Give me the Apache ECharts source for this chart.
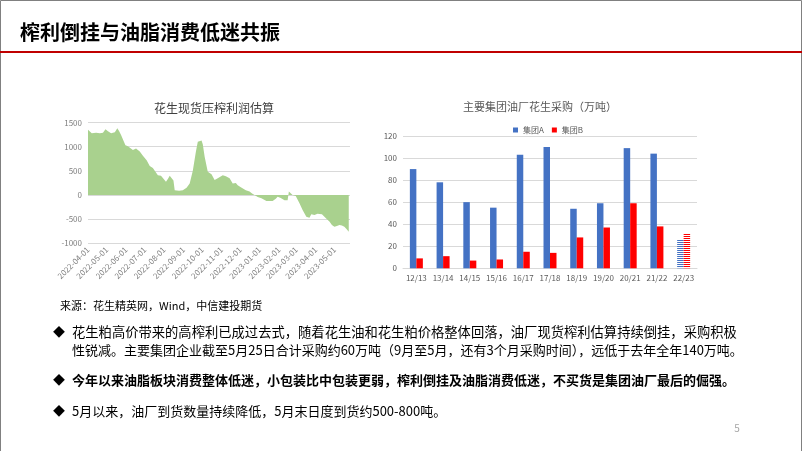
<!DOCTYPE html>
<html>
<head>
<meta charset="utf-8">
<script src="https://cdn.jsdelivr.net/npm/echarts@6/dist/echarts.min.js"></script>
<style>
html,body{margin:0;padding:0;background:#fff;}
#c{width:802px;height:451px;}
</style>
</head>
<body>
<div id="c"></div>
<script>
// ---- Left chart: 花生现货压榨利润估算 ----
var profitDates = ['2022-04-01','2022-04-07','2022-04-14','2022-04-20','2022-04-25','2022-04-29','2022-05-03','2022-05-08','2022-05-11','2022-05-14','2022-05-18','2022-05-21','2022-05-24','2022-05-26','2022-05-31','2022-06-04','2022-06-07','2022-06-12','2022-06-17','2022-06-20','2022-06-23','2022-06-28','2022-07-04','2022-07-09','2022-07-14','2022-07-17','2022-07-22','2022-07-27','2022-07-30','2022-08-04','2022-08-07','2022-08-10','2022-08-13','2022-08-16','2022-08-18','2022-08-25','2022-08-31','2022-09-06','2022-09-11','2022-09-16','2022-09-21','2022-09-24','2022-09-30','2022-10-02','2022-10-05','2022-10-10','2022-10-16','2022-10-21','2022-10-26','2022-10-29','2022-11-03','2022-11-08','2022-11-14','2022-11-19','2022-11-24','2022-11-27','2022-12-02','2022-12-05','2022-12-10','2022-12-16','2022-12-20','2022-12-24','2022-12-29','2023-01-04','2023-01-12','2023-01-22','2023-01-27','2023-01-30','2023-02-04','2023-02-07','2023-02-10','2023-02-15','2023-02-17','2023-02-20','2023-02-23','2023-02-28','2023-03-03','2023-03-06','2023-03-11','2023-03-17','2023-03-22','2023-03-25','2023-03-30','2023-04-04','2023-04-07','2023-04-11','2023-04-15','2023-04-19','2023-04-23','2023-04-27','2023-05-01','2023-05-05','2023-05-09','2023-05-13','2023-05-17','2023-05-20','2023-05-24'];
var profitValues = [1350,1275,1290,1280,1290,1360,1320,1280,1240,1300,1380,1320,1240,1260,1030,1010,1000,930,960,985,900,810,720,600,560,500,410,400,370,275,330,400,430,300,100,90,100,150,240,500,900,1100,1130,1050,790,480,430,310,345,380,410,390,345,240,250,200,160,124,100,70,30,0,-40,-70,-124,-124,-80,-35,-60,-70,-110,-110,70,40,0,-20,-35,-170,-310,-450,-470,-400,-413,-390,-380,-400,-450,-500,-550,-620,-655,-640,-620,-630,-655,-700,-760];
var profitTicks = [-1000,-500,0,500,1000,1500];

// ---- Right chart: 主要集团油厂花生采购（万吨） ----
var seasons = ['12/13','13/14','14/15','15/16','16/17','17/18','18/19','19/20','20/21','21/22','22/23'];
var groupA = [90,78,60,55,103,110,54,59,109,104,26];
var groupB = [9,11,7,8,15,14,28,37,59,38,32];
var purchaseTicks = [0,20,40,60,80,100,120];

function stripes(color){
  var c = document.createElement('canvas');
  c.width = 4; c.height = 2;
  var g = c.getContext('2d');
  g.fillStyle = '#ffffff'; g.fillRect(0,0,4,2);
  g.fillStyle = color; g.fillRect(0,0,4,1);
  return {image: c, repeat: 'repeat'};
}
function barData(vals, color){
  return vals.map(function(v,i){
    if (i === vals.length-1) return {value: v, itemStyle: {color: stripes(color)}};
    return v;
  });
}

var FONT = '"Noto Sans CJK SC", "Noto Sans", sans-serif';
var chart = echarts.init(document.getElementById('c'), null, {renderer:'canvas'});
var DAY = 86400000;
chart.setOption({
  animation: false,
  backgroundColor: '#ffffff',
  textStyle: {fontFamily: FONT},
  grid: [
    {left: 88, right: 452, top: 122.5, bottom: 207.7},
    {left: 403, right: 105, top: 136, bottom: 182.7}
  ],
  legend: {
    data: ['集团A','集团B'],
    top: 121, left: 508,
    itemWidth: 5, itemHeight: 5, itemGap: 8,
    icon: 'rect',
    textStyle: {fontSize: 8, color: '#595959', fontFamily: FONT}
  },
  xAxis: [
    {
      type: 'time', gridIndex: 0,
      min: new Date('2022-04-01T00:00:00').getTime(),
      max: new Date('2023-05-26T00:00:00').getTime(),
      splitNumber: 14,
      minInterval: 28*DAY, maxInterval: 31*DAY,
      axisLine: {show: false}, axisTick: {show: false}, splitLine: {show: false},
      axisLabel: {
        rotate: 45, fontSize: 8, color: '#7f7f7f', margin: 5, hideOverlap: false,
        showMinLabel: true, showMaxLabel: false,
        formatter: function(v){ return echarts.time.format(v, '{yyyy}-{MM}-{dd}', false); }
      }
    },
    {
      type: 'category', gridIndex: 1, data: seasons,
      axisLine: {show: true, lineStyle: {color: '#d9d9d9'}}, axisTick: {show: false},
      axisLabel: {fontSize: 8, color: '#595959', margin: 6, interval: 0}
    }
  ],
  yAxis: [
    {
      type: 'value', gridIndex: 0, min: profitTicks[0], max: profitTicks[profitTicks.length-1], interval: 500,
      axisLine: {show: false}, axisTick: {show: false},
      splitLine: {lineStyle: {color: '#d9d9d9'}},
      axisLabel: {fontSize: 8, color: '#7f7f7f', margin: 6, formatter: function(v){ return String(v); }}
    },
    {
      type: 'value', gridIndex: 1, min: purchaseTicks[0], max: purchaseTicks[purchaseTicks.length-1], interval: 20,
      axisLine: {show: false}, axisTick: {show: false},
      splitLine: {lineStyle: {color: '#d9d9d9'}},
      axisLabel: {fontSize: 8, color: '#595959', margin: 6}
    }
  ],
  series: [
    {
      type: 'line', xAxisIndex: 0, yAxisIndex: 0,
      data: profitDates.map(function(d,i){ return [d, profitValues[i]]; }),
      showSymbol: false, lineStyle: {width: 0}, itemStyle: {color: '#a9d18e'},
      areaStyle: {color: '#a9d18e', opacity: 1}
    },
    {
      name: '集团A', type: 'bar', xAxisIndex: 1, yAxisIndex: 1,
      data: barData(groupA, '#4472c4'), barWidth: 6.5, barGap: '0%',
      itemStyle: {color: '#4472c4'}
    },
    {
      name: '集团B', type: 'bar', xAxisIndex: 1, yAxisIndex: 1,
      data: barData(groupB, '#ff0000'), barWidth: 6.5, barGap: '0%',
      itemStyle: {color: '#ff0000'}
    }
  ],
  graphic: [
    {type: 'rect', shape: {x: 0.5, y: 0.5, width: 801, height: 452}, style: {fill: 'none', stroke: '#808080', lineWidth: 1}, silent: true},
    {type: 'line', shape: {x1: 0, y1: 52, x2: 802, y2: 52}, style: {stroke: '#c00000', lineWidth: 2}},
    {type: 'text', style: {text: '榨利倒挂与油脂消费低迷共振', x: 20, y: 32, textVerticalAlign: 'middle', font: 'bold 20px ' + FONT, fill: '#000000'}},
    {type: 'text', style: {text: '花生现货压榨利润估算', x: 214, y: 108, textAlign: 'center', textVerticalAlign: 'middle', font: '12px ' + FONT, fill: '#404040'}},
    {type: 'text', style: {text: '主要集团油厂花生采购（万吨）', x: 540, y: 107, textAlign: 'center', textVerticalAlign: 'middle', font: '11px ' + FONT, fill: '#595959'}},
    {type: 'text', style: {text: '来源：花生精英网，Wind，中信建投期货', x: 60, y: 306, textVerticalAlign: 'middle', font: '11px ' + FONT, fill: '#000000'}},
    {type: 'text', style: {text: '◆', x: 53, y: 332, textVerticalAlign: 'middle', font: '12px ' + FONT, fill: '#000000'}},
    {type: 'text', style: {text: '花生粕高价带来的高榨利已成过去式，随着花生油和花生粕价格整体回落，油厂现货榨利估算持续倒挂，采购积极', x: 72, y: 332, textVerticalAlign: 'middle', font: '13.3px ' + FONT, fill: '#000000'}},
    {type: 'text', style: {text: '性锐减。主要集团企业截至5月25日合计采购约60万吨（9月至5月，还有3个月采购时间），远低于去年全年140万吨。', x: 72, y: 350, textVerticalAlign: 'middle', font: '13px ' + FONT, fill: '#000000'}},
    {type: 'text', style: {text: '◆', x: 53, y: 380, textVerticalAlign: 'middle', font: '12px ' + FONT, fill: '#000000'}},
    {type: 'text', style: {text: '今年以来油脂板块消费整体低迷，小包装比中包装更弱，榨利倒挂及油脂消费低迷，不买货是集团油厂最后的倔强。', x: 72, y: 380, textVerticalAlign: 'middle', font: 'bold 13px ' + FONT, fill: '#000000'}},
    {type: 'text', style: {text: '◆', x: 53, y: 411, textVerticalAlign: 'middle', font: '12px ' + FONT, fill: '#000000'}},
    {type: 'text', style: {text: '5月以来，油厂到货数量持续降低，5月末日度到货约500-800吨。', x: 72, y: 411, textVerticalAlign: 'middle', font: '13px ' + FONT, fill: '#000000'}},
    {type: 'text', style: {text: '5', x: 737, y: 428, textAlign: 'center', textVerticalAlign: 'middle', font: '10px ' + FONT, fill: '#a6a6a6'}}
  ]
});
</script>
</body>
</html>
